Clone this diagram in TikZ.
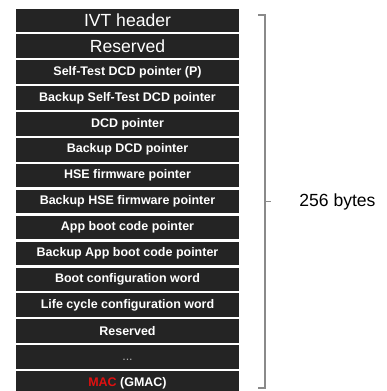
\documentclass[tikz,border=0pt]{standalone}
\usepackage{fontspec}
\setmainfont{Liberation Sans}
\definecolor{fieldgray}{HTML}{242424}
\definecolor{bracegray}{HTML}{8A8A8A}
\definecolor{macred}{HTML}{E01010}
\definecolor{dotgray}{HTML}{B0B0B0}

\begin{document}
\begin{tikzpicture}[
  field/.style={fill=fieldgray,text=white,minimum width=4.46cm,minimum height=0.47cm,
    inner sep=0pt,font=\fontsize{7.1}{8}\selectfont\bfseries},
  bigfield/.style={field,font=\fontsize{10}{12}\selectfont}]
 \useasboundingbox (0,0) rectangle (7.74,-7.82);
 \def\pitch{0.518}
 \def\xmid{2.55}
 \def\ytop{-0.405}
 % header rows
 \node[bigfield] (r1) at (\xmid,\ytop) {IVT header};
 \node[bigfield] (r2) at (\xmid,\ytop-\pitch) {Reserved};
 % pointer and configuration rows
 \foreach \i/\txt in {3/Self-Test DCD pointer (P),4/Backup Self-Test DCD pointer,
   5/DCD pointer,6/Backup DCD pointer,7/HSE firmware pointer,
   8/Backup HSE firmware pointer,9/App boot code pointer,
   10/Backup App boot code pointer,11/Boot configuration word,
   12/Life cycle configuration word,13/Reserved}
  \node[field] (r\i) at (\xmid,{\ytop-(\i-1)*\pitch}) {\txt};
 \node[field,text=dotgray,font=\fontsize{7.1}{8}\selectfont,text height=0.16cm,text depth=0cm] (r14)
   at (\xmid,{\ytop-13*\pitch}) {...};
 \node[field] (r15) at (\xmid,{\ytop-14*\pitch}) {{\color{macred}MAC} (GMAC)};
 % size bracket
 \coordinate (btop) at (5.3,-0.3);
 \coordinate (bbot) at (5.3,-7.76);
 \coordinate (bmid) at (5.3,-4.03);
 \draw[bracegray,line width=0.6pt] ([xshift=-0.14cm]btop) -- (btop) -- (bbot)
   -- ([xshift=-0.14cm]bbot);
 \draw[bracegray,line width=0.6pt] (bmid) -- ([xshift=0.12cm]bmid);
 \node[anchor=west,font=\fontsize{10}{12}\selectfont,inner sep=0pt] (size) at (5.98,-4.03) {256 bytes};
\end{tikzpicture}
\end{document}
